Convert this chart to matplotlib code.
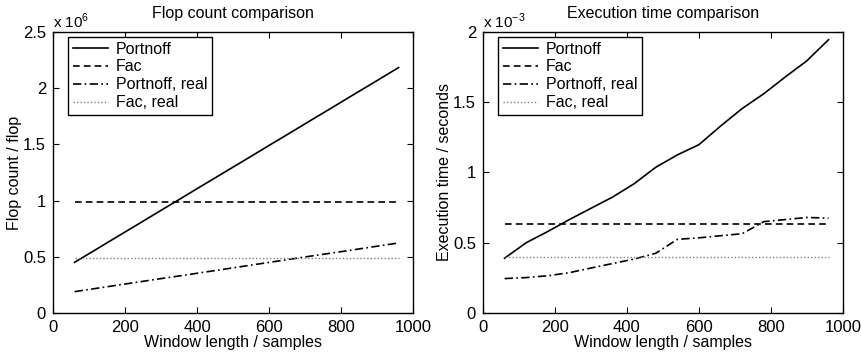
import numpy as np
import matplotlib
matplotlib.use('Agg')
import matplotlib.pyplot as plt

plt.rcParams['font.family'] = ['Liberation Sans', 'DejaVu Sans']
plt.rcParams['mathtext.fontset'] = 'custom'
plt.rcParams['mathtext.rm'] = 'Liberation Sans'
plt.rcParams['font.size'] = 11.5

# window lengths (samples)
win = [60, 120, 180, 240, 300, 360, 420, 480, 540, 600, 660, 720, 780, 840, 900, 960]

# flop counts, x 1e6
flop_portnoff = [0.451, 0.566, 0.682, 0.797, 0.913, 1.028, 1.144, 1.259,
                 1.374, 1.490, 1.605, 1.721, 1.836, 1.952, 2.067, 2.183]
flop_fac = [0.985] * 16
flop_portnoff_real = [0.190, 0.219, 0.248, 0.277, 0.306, 0.334, 0.363, 0.392,
                      0.421, 0.450, 0.479, 0.508, 0.536, 0.565, 0.594, 0.623]
flop_fac_real = [0.492] * 16

# execution time, x 1e-3 seconds
time_portnoff = [0.39, 0.50, 0.58, 0.665, 0.745, 0.825, 0.92, 1.037,
                 1.125, 1.198, 1.33, 1.455, 1.56, 1.68, 1.795, 1.945]
time_fac = [0.631] * 16
time_portnoff_real = [0.245, 0.252, 0.265, 0.287, 0.32, 0.352, 0.384, 0.425,
                      0.524, 0.535, 0.55, 0.564, 0.65, 0.665, 0.68, 0.675]
time_fac_real = [0.396] * 16

labels = ['Portnoff', 'Fac', 'Portnoff, real', 'Fac, real']

fig = plt.figure(figsize=(8.62, 3.54), dpi=100)
ax1 = fig.add_axes([0.0615, 0.1158, 0.4176, 0.794])
ax2 = fig.add_axes([0.5603, 0.1158, 0.4176, 0.794])


def draw(ax, ys, title, ylabel, ymax, yticks, ytl, mult):
    ax.plot(win, ys[0], 'k-', lw=1.2, label=labels[0])
    ax.plot(win, ys[1], 'k--', lw=1.2, dashes=(4, 2.5), label=labels[1])
    ax.plot(win, ys[2], 'k-.', lw=1.2, dashes=(5, 2, 1, 2), label=labels[2])
    ax.plot(win, ys[3], ':', color='0.5', lw=1.0, dashes=(1, 1.5), label=labels[3])
    ax.set_xlim(0, 1000)
    ax.set_ylim(0, ymax)
    ax.set_xticks([0, 200, 400, 600, 800, 1000])
    ax.set_yticks(yticks)
    ax.set_yticklabels(ytl)
    ax.tick_params(direction='in', top=True, right=True, length=4, width=0.8,
                   pad=5, labelsize=12)
    for s in ax.spines.values():
        s.set_linewidth(1.0)
    ax.set_title(title, pad=10, fontsize=11.5)
    ax.set_xlabel('Window length / samples', labelpad=0)
    ax.set_ylabel(ylabel, labelpad=1)
    ax.text(0.0, 1.005, 'x 10$^{' + mult + '}$', transform=ax.transAxes,
            ha='left', va='bottom', fontsize=11)
    leg = ax.legend(loc='upper left', bbox_to_anchor=(0.041, 0.983), borderaxespad=0,
                    handlelength=2.2, labelspacing=0.18, borderpad=0.3,
                    handletextpad=0.5, fancybox=False, edgecolor='k', framealpha=1,
                    fontsize=11.5)
    leg.get_frame().set_linewidth(1.0)


draw(ax1, [flop_portnoff, flop_fac, flop_portnoff_real, flop_fac_real],
     'Flop count comparison', 'Flop count / flop', 2.5,
     [0, 0.5, 1, 1.5, 2, 2.5], ['0', '0.5', '1', '1.5', '2', '2.5'], '6')
draw(ax2, [time_portnoff, time_fac, time_portnoff_real, time_fac_real],
     'Execution time comparison', 'Execution time / seconds', 2.0,
     [0, 0.5, 1, 1.5, 2], ['0', '0.5', '1', '1.5', '2'], '-3')

fig.savefig('out.png', dpi=100)
